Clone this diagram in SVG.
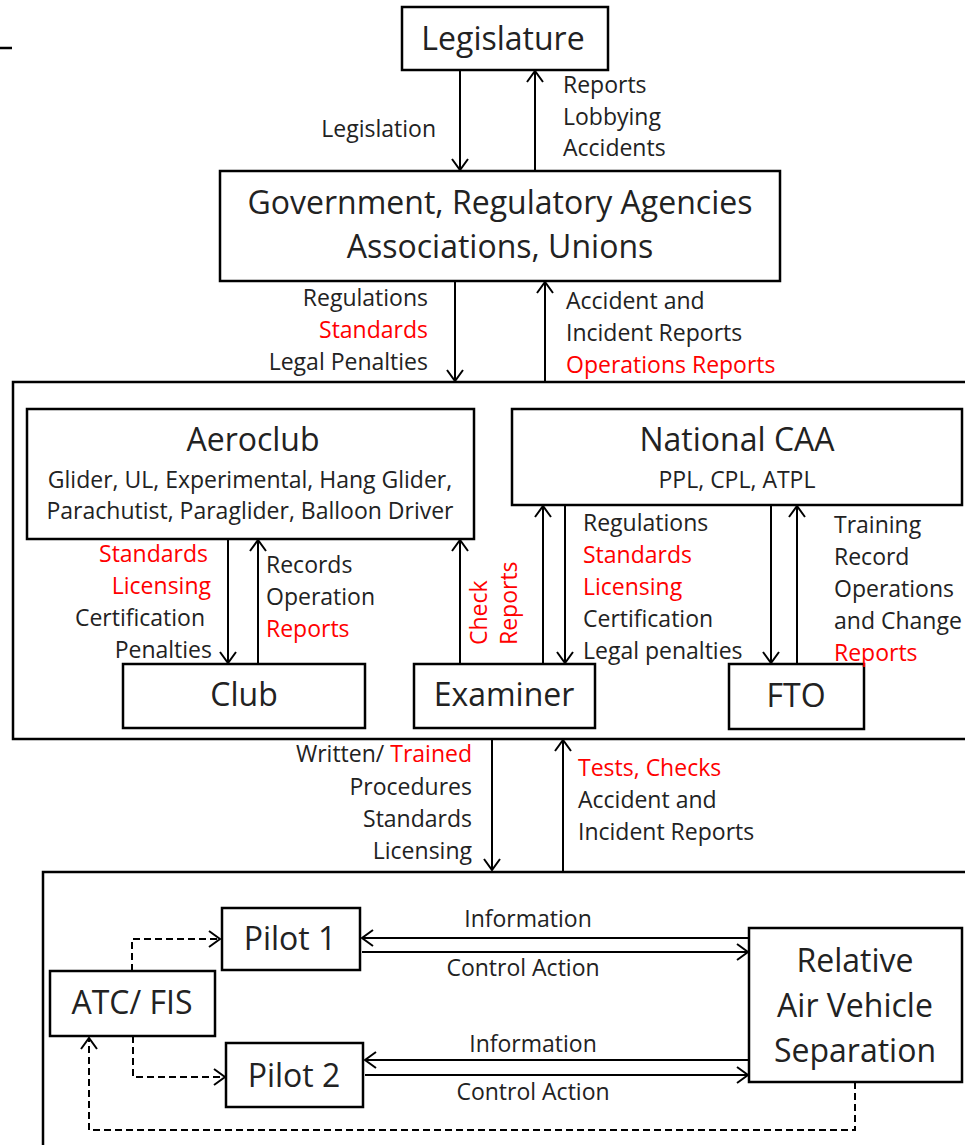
<svg xmlns="http://www.w3.org/2000/svg" width="965" height="1145" viewBox="0 0 965 1145">
<defs>
<marker id="ah" markerWidth="14" markerHeight="18" refX="12" refY="9" orient="auto" markerUnits="userSpaceOnUse">
<path d="M1,1 L12,9 L1,17" fill="none" stroke="#000" stroke-width="2"/>
</marker>
</defs>
<style>
text{font-family:"Open Sans","Noto Sans",sans-serif;fill:#222}
.big{font-size:32px;text-anchor:middle}
.mid{font-size:32px;text-anchor:middle}
.lbl{font-size:23px}
.sub{font-size:23px;text-anchor:middle}
.r{fill:#ff0000}
.e{text-anchor:end}
.c{text-anchor:middle}
.box{fill:#fff;stroke:#000;stroke-width:2.5}
.frame{fill:none;stroke:#000;stroke-width:2.5}
.ar{stroke:#000;stroke-width:2;fill:none;marker-end:url(#ah)}
.da{stroke:#000;stroke-width:2;fill:none;stroke-dasharray:7,4;marker-end:url(#ah)}
</style>
<rect width="965" height="1145" fill="#fff"/>
<line x1="0" y1="48" x2="12" y2="48" stroke="#000" stroke-width="2.5"/>
<rect class="frame" x="13" y="382" width="1000" height="357"/>
<rect class="frame" x="43" y="872" width="1000" height="300"/>
<g id="legislature"><rect class="box" x="402" y="7" width="206" height="63"/><text class="big" x="503" y="50">Legislature</text></g>
<g id="government"><rect class="box" x="220" y="171" width="560" height="110"/><text class="big" x="500" y="214">Government, Regulatory Agencies</text><text class="big" x="500" y="258">Associations, Unions</text></g>
<g id="aeroclub"><rect class="box" x="27" y="409" width="447" height="130"/><text class="mid" x="253" y="451">Aeroclub</text><text class="sub" x="250" y="488">Glider, UL, Experimental, Hang Glider,</text><text class="sub" x="250" y="519">Parachutist, Paraglider, Balloon Driver</text></g>
<g id="caa"><rect class="box" x="512" y="409" width="450" height="96"/><text class="mid" x="737" y="451">National CAA</text><text class="sub" x="737" y="488">PPL, CPL, ATPL</text></g>
<g id="club"><rect class="box" x="123" y="664" width="242" height="64"/><text class="mid" x="244" y="706">Club</text></g>
<g id="examiner"><rect class="box" x="414" y="664" width="181" height="64"/><text class="mid" x="504" y="706">Examiner</text></g>
<g id="fto"><rect class="box" x="729" y="664" width="135" height="65"/><text class="mid" x="796" y="707">FTO</text></g>
<g id="pilot1"><rect class="box" x="222" y="908" width="138" height="62"/><text class="mid" x="290" y="950">Pilot 1</text></g>
<g id="atc"><rect class="box" x="50" y="971" width="165" height="65"/><text class="mid" x="132" y="1014">ATC/ FIS</text></g>
<g id="pilot2"><rect class="box" x="226" y="1043" width="137" height="64"/><text class="mid" x="294" y="1087">Pilot 2</text></g>
<g id="separation"><rect class="box" x="749" y="928" width="213" height="154"/><text class="big" x="855" y="972">Relative</text><text class="big" x="855" y="1017">Air Vehicle</text><text class="big" x="855" y="1062">Separation</text></g>
<g id="connectors">
<line class="ar" x1="460" y1="70" x2="460" y2="170"/>
<line class="ar" x1="535" y1="170" x2="535" y2="71"/>
<line class="ar" x1="455" y1="281" x2="455" y2="381"/>
<line class="ar" x1="545" y1="381" x2="545" y2="282"/>
<line class="ar" x1="228" y1="539" x2="228" y2="663"/>
<line class="ar" x1="258" y1="663" x2="258" y2="540"/>
<line class="ar" x1="460" y1="663" x2="460" y2="540"/>
<line class="ar" x1="543" y1="663" x2="543" y2="506"/>
<line class="ar" x1="565" y1="505" x2="565" y2="663"/>
<line class="ar" x1="771" y1="505" x2="771" y2="663"/>
<line class="ar" x1="797" y1="663" x2="797" y2="506"/>
<line class="ar" x1="492" y1="739" x2="492" y2="870"/>
<line class="ar" x1="563" y1="871" x2="563" y2="740"/>
<line class="ar" x1="748" y1="938" x2="362" y2="938"/>
<line class="ar" x1="362" y1="952" x2="748" y2="952"/>
<line class="ar" x1="748" y1="1060" x2="365" y2="1060"/>
<line class="ar" x1="365" y1="1075" x2="748" y2="1075"/>
<path class="da" d="M132,971 V939 H220"/>
<path class="da" d="M133,1036 V1077 H225"/>
<path class="da" d="M855,1082 V1130 H89 V1038"/>
</g>
<g id="labels">
<text class="lbl e" x="436" y="137">Legislation</text>
<text class="lbl" x="563" y="93">Reports</text>
<text class="lbl" x="563" y="125">Lobbying</text>
<text class="lbl" x="563" y="156">Accidents</text>
<text class="lbl e" x="428" y="306">Regulations</text>
<text class="lbl e r" x="428" y="338">Standards</text>
<text class="lbl e" x="428" y="370">Legal Penalties</text>
<text class="lbl" x="566" y="309">Accident and</text>
<text class="lbl" x="566" y="341">Incident Reports</text>
<text class="lbl r" x="566" y="373">Operations Reports</text>
<text class="lbl e r" x="208" y="562">Standards</text>
<text class="lbl e r" x="211" y="594">Licensing</text>
<text class="lbl e" x="205" y="626">Certification</text>
<text class="lbl e" x="212" y="658">Penalties</text>
<text class="lbl" x="266" y="573">Records</text>
<text class="lbl" x="266" y="605">Operation</text>
<text class="lbl r" x="266" y="637">Reports</text>
<text class="lbl r" transform="translate(487,645) rotate(-90)">Check</text>
<text class="lbl r" transform="translate(517,645) rotate(-90)">Reports</text>
<text class="lbl" x="583" y="531">Regulations</text>
<text class="lbl r" x="583" y="563">Standards</text>
<text class="lbl r" x="583" y="595">Licensing</text>
<text class="lbl" x="583" y="627">Certification</text>
<text class="lbl" x="583" y="659">Legal penalties</text>
<text class="lbl" x="834" y="533">Training</text>
<text class="lbl" x="834" y="565">Record</text>
<text class="lbl" x="834" y="597">Operations</text>
<text class="lbl" x="834" y="629">and Change</text>
<text class="lbl r" x="834" y="661">Reports</text>
<text class="lbl e" x="472" y="762">Written/ <tspan class="r">Trained</tspan></text>
<text class="lbl e" x="472" y="795">Procedures</text>
<text class="lbl e" x="472" y="827">Standards</text>
<text class="lbl e" x="472" y="859">Licensing</text>
<text class="lbl r" x="578" y="776">Tests, Checks</text>
<text class="lbl" x="578" y="808">Accident and</text>
<text class="lbl" x="578" y="840">Incident Reports</text>
<text class="lbl c" x="528" y="927">Information</text>
<text class="lbl c" x="523" y="976">Control Action</text>
<text class="lbl c" x="533" y="1052">Information</text>
<text class="lbl c" x="533" y="1100">Control Action</text>
</g>
</svg>
